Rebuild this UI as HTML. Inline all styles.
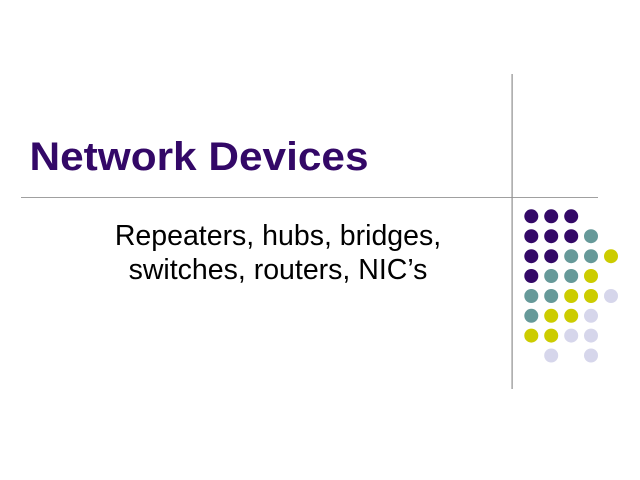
<!DOCTYPE html>
<html><head><meta charset="utf-8"><style>
html,body{margin:0;padding:0;background:#fff}
svg{display:block}
</style></head><body>
<svg width="640" height="480" viewBox="0 0 640 480" xmlns="http://www.w3.org/2000/svg">
<rect width="640" height="480" fill="#fff"/>
<rect x="21" y="197" width="577" height="1" fill="#a0a0a0"/>
<rect x="511.5" y="74" width="1.2" height="315" fill="#8f8f8f"/>
<g fill="#330867">
<circle cx="531.3" cy="216.3" r="7"/><circle cx="551.2" cy="216.3" r="7"/><circle cx="571.2" cy="216.3" r="7"/>
<circle cx="531.3" cy="236.2" r="7"/><circle cx="551.2" cy="236.2" r="7"/><circle cx="571.2" cy="236.2" r="7"/>
<circle cx="531.3" cy="256.2" r="7"/><circle cx="551.2" cy="256.2" r="7"/>
<circle cx="531.3" cy="276" r="7"/>
</g>
<g fill="#669999">
<circle cx="591" cy="236.2" r="7"/>
<circle cx="571.2" cy="256.2" r="7"/><circle cx="591" cy="256.2" r="7"/>
<circle cx="551.2" cy="276" r="7"/><circle cx="571.2" cy="276" r="7"/>
<circle cx="531.3" cy="296" r="7"/><circle cx="551.2" cy="296" r="7"/>
<circle cx="531.3" cy="315.8" r="7"/>
</g>
<g fill="#cccc00">
<circle cx="611" cy="256.2" r="7"/>
<circle cx="591" cy="276" r="7"/>
<circle cx="571.2" cy="296" r="7"/><circle cx="591" cy="296" r="7"/>
<circle cx="551.2" cy="315.8" r="7"/><circle cx="571.2" cy="315.8" r="7"/>
<circle cx="531.3" cy="335.6" r="7"/><circle cx="551.2" cy="335.6" r="7"/>
</g>
<g fill="#d6d6eb">
<circle cx="611" cy="296" r="7"/>
<circle cx="591" cy="315.8" r="7"/>
<circle cx="571.2" cy="335.6" r="7"/><circle cx="591" cy="335.6" r="7"/>
<circle cx="551.2" cy="355.5" r="7"/><circle cx="591" cy="355.5" r="7"/>
</g>
<text x="29.5" y="170" font-family="'Liberation Sans',sans-serif" font-weight="700" font-size="40" fill="#330867" textLength="339" lengthAdjust="spacingAndGlyphs">Network Devices</text>
<text x="278" y="245" text-anchor="middle" font-family="'Liberation Sans',sans-serif" font-size="28.5" fill="#000">Repeaters, hubs, bridges,</text>
<text x="278" y="279" text-anchor="middle" font-family="'Liberation Sans',sans-serif" font-size="28.5" fill="#000">switches, routers, NIC’s</text>
</svg>
</body></html>
